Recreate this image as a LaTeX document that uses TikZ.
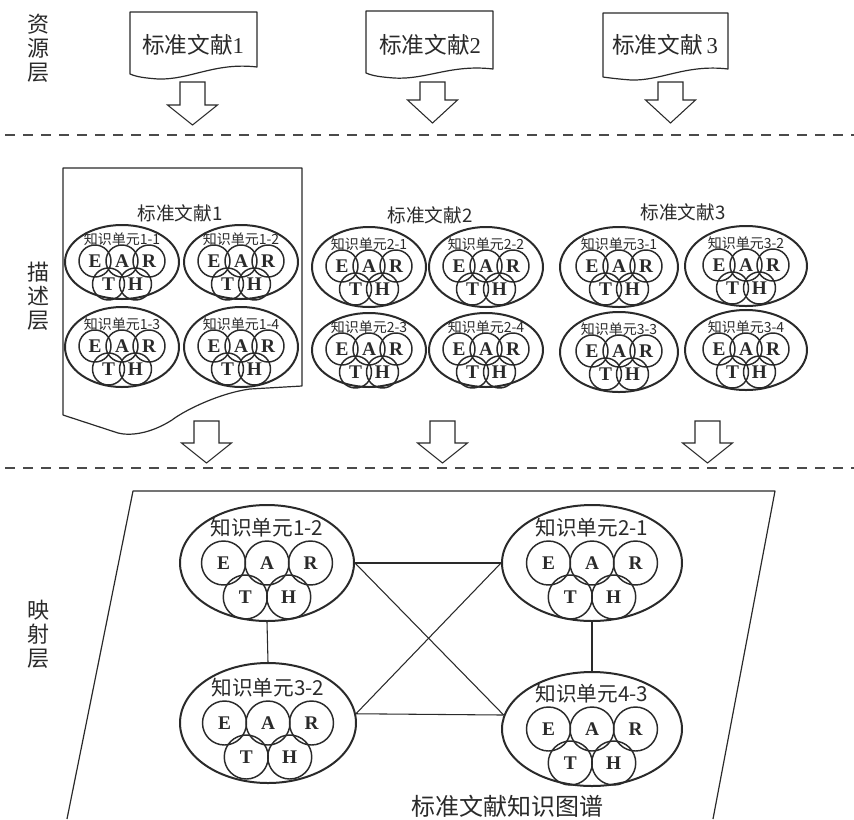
\documentclass[tikz,border=0pt]{standalone}
\usepackage{fontspec}
\setmainfont{Liberation Serif}
\newfontfamily\cjk{Noto Sans CJK SC}
\usetikzlibrary{shapes.geometric}
\definecolor{ink}{HTML}{2A2A2A}
\definecolor{dashc}{HTML}{4A4A4A}
\newcommand{\unitS}[6]{%
  \node[ellS, minimum width={#4*1.5pt}, minimum height={#5*1.5pt}] (#1) at (#2,#3) {};
  \node[labS] (#1l) at (#2,#3-23) {#6};
  \node[cS] (#1E) at (#2-27,#3-1) {E};
  \node[cS] (#1A) at (#2,#3-1) {A};
  \node[cS] (#1R) at (#2+27,#3-1) {R};
  \node[cS] (#1T) at (#2-13.5,#3+22) {T};
  \node[cS] (#1H) at (#2+13.5,#3+22) {H};
}
\newcommand{\unitB}[6]{%
  \node[ellB, minimum width={#4*1.5pt}, minimum height={#5*1.5pt}] (#1) at (#2,#3) {};
  \node[labB] (#1l) at (#2,#3-35) {#6};
  \node[cB] (#1E) at (#2-43.5,#3) {E};
  \node[cB] (#1A) at (#2,#3) {A};
  \node[cB] (#1R) at (#2+43.5,#3) {R};
  \node[cB] (#1T) at (#2-21.75,#3+34) {T};
  \node[cB] (#1H) at (#2+21.75,#3+34) {H};
}
\newcommand{\blockarrow}[4]{% x, ytop, yhead, ytip
  \draw[arr] (#1-12.5,#2) -- (#1+12.5,#2) -- (#1+12.5,#3) -- (#1+25,#3)
    -- (#1,#4) -- (#1-25,#3) -- (#1-12.5,#3) -- cycle;
}
\begin{document}
\begin{tikzpicture}[x=0.75pt,y=-0.75pt,line join=round,
  ellS/.style={ellipse, draw=ink, line width=1.5pt, inner sep=0pt},
  ellB/.style={ellipse, draw=ink, line width=1.5pt, inner sep=0pt},
  cS/.style={circle, draw=ink, line width=1.1pt, minimum size=24pt, inner sep=0pt,
    font=\fontsize{14.5}{15}\selectfont\bfseries, text=ink},
  cB/.style={circle, draw=ink, line width=1.1pt, minimum size=33pt, inner sep=0pt,
    font=\fontsize{14.5}{15}\selectfont\bfseries, text=ink},
  labS/.style={inner sep=0pt, font=\cjk\fontsize{10.5}{11}\selectfont, text=ink},
  labB/.style={inner sep=0pt, font=\cjk\fontsize{15.5}{16}\selectfont, text=ink},
  ttl/.style={inner sep=0pt, font=\cjk\fontsize{14}{15}\selectfont, text=ink},
  doctxt/.style={inner sep=0pt, font=\fontsize{17}{18}\selectfont, text=ink},
  layer/.style={inner sep=0pt, align=center, font=\cjk\fontsize{16.5}{18}\selectfont, text=ink},
  arr/.style={draw=ink, line width=0.8pt, line join=miter},
  docline/.style={draw=ink, line width=0.9pt},
  sep/.style={draw=dashc, line width=1.1pt, dash pattern=on 7.5pt off 6pt},
  link/.style={draw=ink, line width=0.8pt}
]
\useasboundingbox (0,0) rectangle (854,819);

% layer labels
\node[layer] (L1) at (38,48) {资\\源\\层};
\node[layer] (L2) at (38,296) {描\\述\\层};
\node[layer] (L3) at (38,634) {映\\射\\层};

% separators
\draw[sep] (5,135) -- (854,135);
\draw[sep] (5,468) -- (854,468);

% ---------- resource layer ----------
\draw[docline] (130,12) -- (257,12) -- (257,67)
  .. controls (215,62) and (190,80) .. (158,79)
  .. controls (145,78) and (137,77) .. (130,74) -- cycle;
\node[doctxt] (d1) at (193,45) {{\cjk 标准文献}1};
\draw[docline] (366,11) -- (493,11) -- (493,69)
  .. controls (451,64) and (426,80) .. (394,78)
  .. controls (381,77) and (373,76) .. (366,73) -- cycle;
\node[doctxt] (d2) at (430,45) {{\cjk 标准文献}2};
\draw[docline] (603,13) -- (728,13) -- (728,69)
  .. controls (686,64) and (661,81) .. (631,80)
  .. controls (618,79) and (610,78) .. (603,77) -- cycle;
\node[doctxt] (d3) at (665,45) {{\cjk 标准文献}\,3};

\blockarrow{192.5}{82}{105}{125}
\blockarrow{432.5}{82}{100}{123}
\blockarrow{670.5}{82}{100}{123}

% ---------- description layer ----------
\draw[docline] (63,168) -- (302,168) -- (302,386) -- (250,389)
  .. controls (220,393) and (185,410) .. (172,420)
  .. controls (150,434) and (130,436) .. (118,433) -- (63,415) -- cycle;

\node[ttl] (t1) at (180,213) {标准文献1};
\node[ttl] (t2) at (430,215) {标准文献2};
\node[ttl] (t3) at (683,212) {标准文献3};

\unitS{a11}{122}{262}{57}{37}{知识单元1-1}
\unitS{a12}{241}{262}{57}{37}{知识单元1-2}
\unitS{a13}{122}{347}{57}{40}{知识单元1-3}
\unitS{a14}{241}{347}{57}{40}{知识单元1-4}

\unitS{a21}{369}{267}{57}{40}{知识单元2-1}
\unitS{a22}{486}{267}{57}{40}{知识单元2-2}
\unitS{a23}{369}{350}{57}{37}{知识单元2-3}
\unitS{a24}{486}{350}{57}{37}{知识单元2-4}

\unitS{a31}{619}{267}{59}{40}{知识单元3-1}
\unitS{a32}{746}{266}{61}{40}{知识单元3-2}
\unitS{a33}{619}{352}{59}{40}{知识单元3-3}
\unitS{a34}{746}{350}{61}{40}{知识单元3-4}

\blockarrow{206.5}{421}{443}{463}
\blockarrow{442.5}{421}{443}{463}
\blockarrow{707.5}{421}{443}{463}

% ---------- mapping layer ----------
\draw[docline] (67,819) -- (133,491) -- (775,491) -- (713,819);

\unitB{u12}{267}{563}{87}{58}{知识单元1-2}
\unitB{u21}{592}{563}{90}{58}{知识单元2-1}
\unitB{u32}{268}{723}{88}{60}{知识单元3-2}
\unitB{u43}{592}{729}{90}{57}{知识单元4-3}

\draw[link] (u12.east) -- (u21.west);
\draw[link] (u32.6) -- (u43.171);
\draw[link] (u12.east) -- (u43.171);
\draw[link] (u32.6) -- (u21.west);
\draw[link] (u12.south) -- (u32.north);
\draw[link] (u21.south) -- (u43.north);

\node[inner sep=0pt, font=\cjk\fontsize{18}{19}\selectfont, text=ink] (title) at (507,806) {标准文献知识图谱};
\end{tikzpicture}
\end{document}
